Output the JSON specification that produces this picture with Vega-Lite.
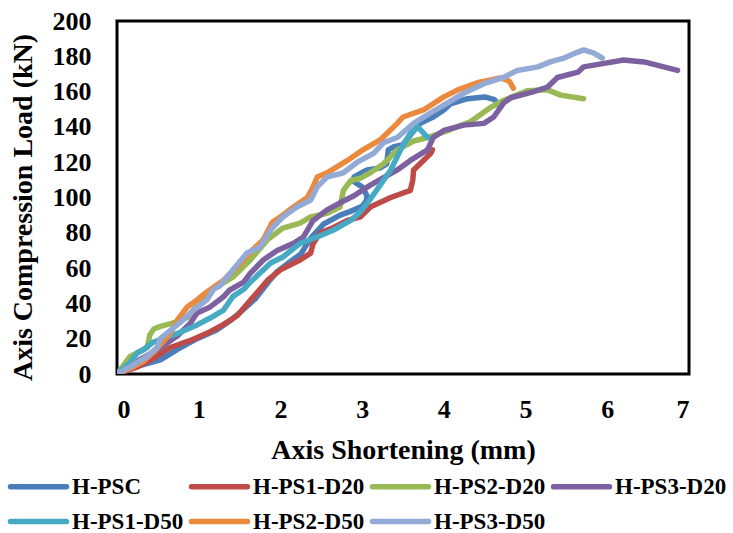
{
"$schema":"https://vega.github.io/schema/vega-lite/v6.json",
"width":572,"height":353,
"autosize":{"type":"none"},
"padding":{"left":117,"top":21,"right":44,"bottom":159},
"background":"white",
"config":{
 "view":{"stroke":"#000","strokeWidth":3},
 "axis":{"domain":false,"ticks":false,"grid":false,"labelFont":"Liberation Serif","labelFontWeight":"bold","labelFontSize":26,"labelColor":"#000","titleFont":"Liberation Serif","titleFontWeight":"bold","titleFontSize":28,"titleColor":"#000"},
 "legend":{"labelFont":"Liberation Serif","labelFontWeight":"bold","labelFontSize":23,"labelColor":"#000"}
},
"data":{"values":[
{"s":"H-PSC","i":0,"x":0,"y":0},{"s":"H-PSC","i":1,"x":0.15,"y":3},{"s":"H-PSC","i":2,"x":0.3,"y":5},{"s":"H-PSC","i":3,"x":0.53,"y":8},{"s":"H-PSC","i":4,"x":0.74,"y":14},{"s":"H-PSC","i":5,"x":0.98,"y":20},{"s":"H-PSC","i":6,"x":1.22,"y":25},{"s":"H-PSC","i":7,"x":1.38,"y":30},{"s":"H-PSC","i":8,"x":1.51,"y":35},{"s":"H-PSC","i":9,"x":1.7,"y":43},{"s":"H-PSC","i":10,"x":1.85,"y":52},{"s":"H-PSC","i":11,"x":1.96,"y":58},{"s":"H-PSC","i":12,"x":2.1,"y":63},{"s":"H-PSC","i":13,"x":2.25,"y":68},{"s":"H-PSC","i":14,"x":2.37,"y":77},{"s":"H-PSC","i":15,"x":2.53,"y":85},{"s":"H-PSC","i":16,"x":2.73,"y":90},{"s":"H-PSC","i":17,"x":2.85,"y":92},{"s":"H-PSC","i":18,"x":3.0,"y":95},{"s":"H-PSC","i":19,"x":3.05,"y":98},{"s":"H-PSC","i":20,"x":3.06,"y":101},{"s":"H-PSC","i":21,"x":3.0,"y":106},{"s":"H-PSC","i":22,"x":2.9,"y":109},{"s":"H-PSC","i":23,"x":2.9,"y":111.6},{"s":"H-PSC","i":24,"x":3.06,"y":115.6},{"s":"H-PSC","i":25,"x":3.22,"y":116.7},{"s":"H-PSC","i":26,"x":3.3,"y":119},{"s":"H-PSC","i":27,"x":3.32,"y":127},{"s":"H-PSC","i":28,"x":3.38,"y":128.6},{"s":"H-PSC","i":29,"x":3.5,"y":130},{"s":"H-PSC","i":30,"x":3.6,"y":136},{"s":"H-PSC","i":31,"x":3.71,"y":142},{"s":"H-PSC","i":32,"x":3.87,"y":145.6},{"s":"H-PSC","i":33,"x":4.0,"y":149.6},{"s":"H-PSC","i":34,"x":4.08,"y":153},{"s":"H-PSC","i":35,"x":4.29,"y":156},{"s":"H-PSC","i":36,"x":4.5,"y":157},{"s":"H-PSC","i":37,"x":4.62,"y":155.5},{"s":"H-PSC","i":38,"x":4.69,"y":151},
{"s":"H-PS1-D20","i":0,"x":0,"y":0},{"s":"H-PS1-D20","i":1,"x":0.25,"y":4},{"s":"H-PS1-D20","i":2,"x":0.45,"y":9},{"s":"H-PS1-D20","i":3,"x":0.65,"y":15},{"s":"H-PS1-D20","i":4,"x":0.9,"y":19},{"s":"H-PS1-D20","i":5,"x":1.14,"y":24},{"s":"H-PS1-D20","i":6,"x":1.3,"y":28},{"s":"H-PS1-D20","i":7,"x":1.47,"y":33},{"s":"H-PS1-D20","i":8,"x":1.6,"y":40},{"s":"H-PS1-D20","i":9,"x":1.75,"y":48},{"s":"H-PS1-D20","i":10,"x":1.84,"y":53},{"s":"H-PS1-D20","i":11,"x":2.0,"y":59},{"s":"H-PS1-D20","i":12,"x":2.24,"y":64.6},{"s":"H-PS1-D20","i":13,"x":2.37,"y":68.5},{"s":"H-PS1-D20","i":14,"x":2.4,"y":74},{"s":"H-PS1-D20","i":15,"x":2.49,"y":80},{"s":"H-PS1-D20","i":16,"x":2.65,"y":83},{"s":"H-PS1-D20","i":17,"x":2.82,"y":87},{"s":"H-PS1-D20","i":18,"x":2.98,"y":89},{"s":"H-PS1-D20","i":19,"x":3.1,"y":94.6},{"s":"H-PS1-D20","i":20,"x":3.35,"y":100},{"s":"H-PS1-D20","i":21,"x":3.59,"y":104},{"s":"H-PS1-D20","i":22,"x":3.62,"y":110},{"s":"H-PS1-D20","i":23,"x":3.63,"y":115.6},{"s":"H-PS1-D20","i":24,"x":3.75,"y":121},{"s":"H-PS1-D20","i":25,"x":3.84,"y":125},{"s":"H-PS1-D20","i":26,"x":3.86,"y":127},
{"s":"H-PS2-D20","i":0,"x":0,"y":0},{"s":"H-PS2-D20","i":1,"x":0.16,"y":10},{"s":"H-PS2-D20","i":2,"x":0.37,"y":15},{"s":"H-PS2-D20","i":3,"x":0.4,"y":22},{"s":"H-PS2-D20","i":4,"x":0.45,"y":25.5},{"s":"H-PS2-D20","i":5,"x":0.53,"y":27},{"s":"H-PS2-D20","i":6,"x":0.69,"y":29},{"s":"H-PS2-D20","i":7,"x":0.86,"y":32},{"s":"H-PS2-D20","i":8,"x":0.98,"y":39},{"s":"H-PS2-D20","i":9,"x":1.14,"y":45},{"s":"H-PS2-D20","i":10,"x":1.18,"y":48},{"s":"H-PS2-D20","i":11,"x":1.42,"y":55},{"s":"H-PS2-D20","i":12,"x":1.63,"y":64.6},{"s":"H-PS2-D20","i":13,"x":1.84,"y":76},{"s":"H-PS2-D20","i":14,"x":2.03,"y":82.7},{"s":"H-PS2-D20","i":15,"x":2.24,"y":85.5},{"s":"H-PS2-D20","i":16,"x":2.37,"y":89},{"s":"H-PS2-D20","i":17,"x":2.57,"y":91},{"s":"H-PS2-D20","i":18,"x":2.73,"y":94.6},{"s":"H-PS2-D20","i":19,"x":2.77,"y":104},{"s":"H-PS2-D20","i":20,"x":2.86,"y":109.5},{"s":"H-PS2-D20","i":21,"x":2.98,"y":111},{"s":"H-PS2-D20","i":22,"x":3.1,"y":114},{"s":"H-PS2-D20","i":23,"x":3.26,"y":119},{"s":"H-PS2-D20","i":24,"x":3.43,"y":127},{"s":"H-PS2-D20","i":25,"x":3.63,"y":132},{"s":"H-PS2-D20","i":26,"x":3.8,"y":134},{"s":"H-PS2-D20","i":27,"x":3.96,"y":136.5},{"s":"H-PS2-D20","i":28,"x":4.08,"y":138.5},{"s":"H-PS2-D20","i":29,"x":4.33,"y":143},{"s":"H-PS2-D20","i":30,"x":4.57,"y":151},{"s":"H-PS2-D20","i":31,"x":4.73,"y":155},{"s":"H-PS2-D20","i":32,"x":5.02,"y":160.5},{"s":"H-PS2-D20","i":33,"x":5.27,"y":161},{"s":"H-PS2-D20","i":34,"x":5.43,"y":158},{"s":"H-PS2-D20","i":35,"x":5.71,"y":156},
{"s":"H-PS3-D20","i":0,"x":0,"y":0},{"s":"H-PS3-D20","i":1,"x":0.2,"y":6},{"s":"H-PS3-D20","i":2,"x":0.5,"y":14},{"s":"H-PS3-D20","i":3,"x":0.75,"y":22},{"s":"H-PS3-D20","i":4,"x":0.9,"y":29},{"s":"H-PS3-D20","i":5,"x":0.98,"y":34.6},{"s":"H-PS3-D20","i":6,"x":1.14,"y":38},{"s":"H-PS3-D20","i":7,"x":1.3,"y":43.6},{"s":"H-PS3-D20","i":8,"x":1.38,"y":47.6},{"s":"H-PS3-D20","i":9,"x":1.55,"y":52},{"s":"H-PS3-D20","i":10,"x":1.63,"y":57},{"s":"H-PS3-D20","i":11,"x":1.79,"y":64.6},{"s":"H-PS3-D20","i":12,"x":1.96,"y":70},{"s":"H-PS3-D20","i":13,"x":2.16,"y":74},{"s":"H-PS3-D20","i":14,"x":2.28,"y":77.6},{"s":"H-PS3-D20","i":15,"x":2.4,"y":87},{"s":"H-PS3-D20","i":16,"x":2.57,"y":93},{"s":"H-PS3-D20","i":17,"x":2.73,"y":97},{"s":"H-PS3-D20","i":18,"x":2.9,"y":101},{"s":"H-PS3-D20","i":19,"x":3.1,"y":107},{"s":"H-PS3-D20","i":20,"x":3.43,"y":115.6},{"s":"H-PS3-D20","i":21,"x":3.59,"y":121},{"s":"H-PS3-D20","i":22,"x":3.8,"y":127},{"s":"H-PS3-D20","i":23,"x":3.87,"y":134},{"s":"H-PS3-D20","i":24,"x":4.0,"y":138},{"s":"H-PS3-D20","i":25,"x":4.24,"y":141},{"s":"H-PS3-D20","i":26,"x":4.49,"y":142},{"s":"H-PS3-D20","i":27,"x":4.61,"y":145.6},{"s":"H-PS3-D20","i":28,"x":4.73,"y":153.5},{"s":"H-PS3-D20","i":29,"x":4.82,"y":156.5},{"s":"H-PS3-D20","i":30,"x":5.1,"y":160},{"s":"H-PS3-D20","i":31,"x":5.27,"y":162.6},{"s":"H-PS3-D20","i":32,"x":5.39,"y":168},{"s":"H-PS3-D20","i":33,"x":5.64,"y":171},{"s":"H-PS3-D20","i":34,"x":5.71,"y":174},{"s":"H-PS3-D20","i":35,"x":5.96,"y":176},{"s":"H-PS3-D20","i":36,"x":6.2,"y":177.9},{"s":"H-PS3-D20","i":37,"x":6.45,"y":176.8},{"s":"H-PS3-D20","i":38,"x":6.86,"y":172},
{"s":"H-PS1-D50","i":0,"x":0,"y":0},{"s":"H-PS1-D50","i":1,"x":0.15,"y":6},{"s":"H-PS1-D50","i":2,"x":0.25,"y":12},{"s":"H-PS1-D50","i":3,"x":0.32,"y":13.6},{"s":"H-PS1-D50","i":4,"x":0.44,"y":18},{"s":"H-PS1-D50","i":5,"x":0.74,"y":23},{"s":"H-PS1-D50","i":6,"x":0.98,"y":27.8},{"s":"H-PS1-D50","i":7,"x":1.14,"y":31.7},{"s":"H-PS1-D50","i":8,"x":1.3,"y":36},{"s":"H-PS1-D50","i":9,"x":1.42,"y":44},{"s":"H-PS1-D50","i":10,"x":1.55,"y":48},{"s":"H-PS1-D50","i":11,"x":1.63,"y":52},{"s":"H-PS1-D50","i":12,"x":1.88,"y":62.9},{"s":"H-PS1-D50","i":13,"x":2.03,"y":66.3},{"s":"H-PS1-D50","i":14,"x":2.24,"y":74},{"s":"H-PS1-D50","i":15,"x":2.45,"y":77.6},{"s":"H-PS1-D50","i":16,"x":2.65,"y":81.6},{"s":"H-PS1-D50","i":17,"x":2.86,"y":87},{"s":"H-PS1-D50","i":18,"x":2.98,"y":92},{"s":"H-PS1-D50","i":19,"x":3.1,"y":99},{"s":"H-PS1-D50","i":20,"x":3.22,"y":107},{"s":"H-PS1-D50","i":21,"x":3.35,"y":115.6},{"s":"H-PS1-D50","i":22,"x":3.47,"y":127},{"s":"H-PS1-D50","i":23,"x":3.59,"y":136.5},{"s":"H-PS1-D50","i":24,"x":3.68,"y":140},{"s":"H-PS1-D50","i":25,"x":3.74,"y":137},{"s":"H-PS1-D50","i":26,"x":3.8,"y":134},
{"s":"H-PS2-D50","i":0,"x":0,"y":0},{"s":"H-PS2-D50","i":1,"x":0.2,"y":4},{"s":"H-PS2-D50","i":2,"x":0.32,"y":7},{"s":"H-PS2-D50","i":3,"x":0.44,"y":12},{"s":"H-PS2-D50","i":4,"x":0.56,"y":18},{"s":"H-PS2-D50","i":5,"x":0.65,"y":23},{"s":"H-PS2-D50","i":6,"x":0.74,"y":30.6},{"s":"H-PS2-D50","i":7,"x":0.86,"y":38},{"s":"H-PS2-D50","i":8,"x":0.98,"y":42},{"s":"H-PS2-D50","i":9,"x":1.1,"y":46.5},{"s":"H-PS2-D50","i":10,"x":1.3,"y":53},{"s":"H-PS2-D50","i":11,"x":1.5,"y":62},{"s":"H-PS2-D50","i":12,"x":1.65,"y":70},{"s":"H-PS2-D50","i":13,"x":1.79,"y":76},{"s":"H-PS2-D50","i":14,"x":1.9,"y":86},{"s":"H-PS2-D50","i":15,"x":2.0,"y":89},{"s":"H-PS2-D50","i":16,"x":2.16,"y":94.6},{"s":"H-PS2-D50","i":17,"x":2.33,"y":100},{"s":"H-PS2-D50","i":18,"x":2.4,"y":106},{"s":"H-PS2-D50","i":19,"x":2.45,"y":111.6},{"s":"H-PS2-D50","i":20,"x":2.57,"y":114},{"s":"H-PS2-D50","i":21,"x":2.82,"y":121},{"s":"H-PS2-D50","i":22,"x":3.01,"y":127},{"s":"H-PS2-D50","i":23,"x":3.22,"y":132.6},{"s":"H-PS2-D50","i":24,"x":3.43,"y":142},{"s":"H-PS2-D50","i":25,"x":3.5,"y":145.6},{"s":"H-PS2-D50","i":26,"x":3.75,"y":149.6},{"s":"H-PS2-D50","i":27,"x":4.0,"y":157},{"s":"H-PS2-D50","i":28,"x":4.17,"y":161},{"s":"H-PS2-D50","i":29,"x":4.41,"y":165},{"s":"H-PS2-D50","i":30,"x":4.69,"y":167.7},{"s":"H-PS2-D50","i":31,"x":4.8,"y":166},{"s":"H-PS2-D50","i":32,"x":4.85,"y":162},
{"s":"H-PS3-D50","i":0,"x":0,"y":0},{"s":"H-PS3-D50","i":1,"x":0.16,"y":4},{"s":"H-PS3-D50","i":2,"x":0.37,"y":10},{"s":"H-PS3-D50","i":3,"x":0.49,"y":15},{"s":"H-PS3-D50","i":4,"x":0.53,"y":20},{"s":"H-PS3-D50","i":5,"x":0.61,"y":23},{"s":"H-PS3-D50","i":6,"x":0.81,"y":30.6},{"s":"H-PS3-D50","i":7,"x":0.93,"y":36},{"s":"H-PS3-D50","i":8,"x":1.1,"y":42},{"s":"H-PS3-D50","i":9,"x":1.18,"y":48},{"s":"H-PS3-D50","i":10,"x":1.26,"y":50},{"s":"H-PS3-D50","i":11,"x":1.42,"y":59},{"s":"H-PS3-D50","i":12,"x":1.59,"y":68.5},{"s":"H-PS3-D50","i":13,"x":1.75,"y":72},{"s":"H-PS3-D50","i":14,"x":1.88,"y":81.6},{"s":"H-PS3-D50","i":15,"x":2.03,"y":89},{"s":"H-PS3-D50","i":16,"x":2.2,"y":94.6},{"s":"H-PS3-D50","i":17,"x":2.37,"y":98.6},{"s":"H-PS3-D50","i":18,"x":2.45,"y":106},{"s":"H-PS3-D50","i":19,"x":2.57,"y":111.6},{"s":"H-PS3-D50","i":20,"x":2.77,"y":114},{"s":"H-PS3-D50","i":21,"x":2.94,"y":120},{"s":"H-PS3-D50","i":22,"x":3.14,"y":125},{"s":"H-PS3-D50","i":23,"x":3.26,"y":131},{"s":"H-PS3-D50","i":24,"x":3.43,"y":134},{"s":"H-PS3-D50","i":25,"x":3.63,"y":142},{"s":"H-PS3-D50","i":26,"x":3.84,"y":148},{"s":"H-PS3-D50","i":27,"x":4.04,"y":153.5},{"s":"H-PS3-D50","i":28,"x":4.24,"y":159},{"s":"H-PS3-D50","i":29,"x":4.49,"y":164.5},{"s":"H-PS3-D50","i":30,"x":4.73,"y":168},{"s":"H-PS3-D50","i":31,"x":4.9,"y":172},{"s":"H-PS3-D50","i":32,"x":5.15,"y":174},{"s":"H-PS3-D50","i":33,"x":5.31,"y":177},{"s":"H-PS3-D50","i":34,"x":5.47,"y":179},{"s":"H-PS3-D50","i":35,"x":5.64,"y":182.4},{"s":"H-PS3-D50","i":36,"x":5.71,"y":183.6},{"s":"H-PS3-D50","i":37,"x":5.83,"y":182},{"s":"H-PS3-D50","i":38,"x":5.94,"y":179}
]},
"mark":{"type":"line","strokeWidth":5.5,"strokeCap":"round","strokeJoin":"round","clip":true},
"encoding":{
 "x":{"field":"x","type":"quantitative","scale":{"domain":[0,7],"nice":false,"zero":false},
  "axis":{"values":[0,1,2,3,4,5,6,7],"labelPadding":22,"title":"Axis Shortening (mm)","titleY":76,"titleBaseline":"middle"}},
 "y":{"field":"y","type":"quantitative","scale":{"domain":[0,200],"nice":false},
  "axis":{"values":[0,20,40,60,80,100,120,140,160,180,200],"labelPadding":26,"title":"Axis Compression Load (kN)","titleX":-94,"titleY":186,"titleBaseline":"middle"}},
 "order":{"field":"i","type":"quantitative"},
 "color":{"field":"s","type":"nominal",
  "scale":{"domain":["H-PSC","H-PS1-D20","H-PS2-D20","H-PS3-D20","H-PS1-D50","H-PS2-D50","H-PS3-D50"],
           "range":["#4A7EBB","#BE4B48","#98B954","#7D60A0","#46AAC5","#EB8A3D","#93AAD6"]},
  "legend":{"title":null,"orient":"none","direction":"horizontal","legendX":-107,"legendY":453,"columns":4,"padding":0,
   "symbolType":"M-3,0H3","symbolSize":348,"symbolStrokeWidth":5.5,"symbolOffset":16,"labelOffset":21,
   "columnPadding":-4,"rowPadding":10,"labelLimit":300,
   "encode":{"symbols":{"update":{"strokeCap":{"value":"round"}}}}}}
}
}
